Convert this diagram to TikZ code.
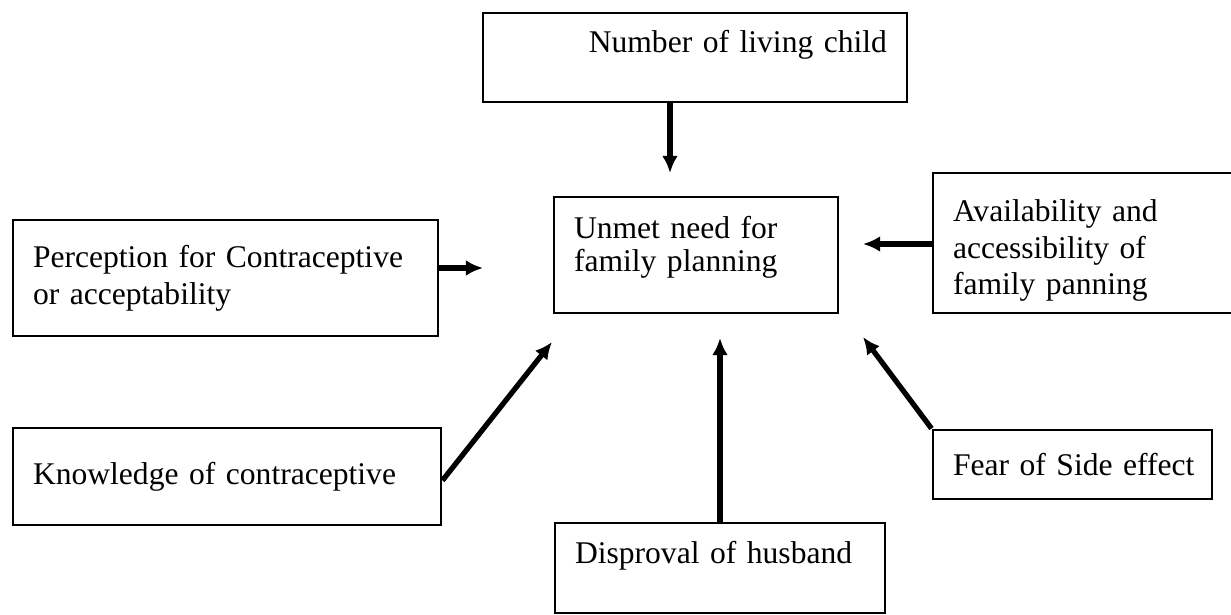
\documentclass[tikz,border=0pt]{standalone}
\usepackage{fontspec}
\setmainfont{Liberation Serif}
\usetikzlibrary{arrows.meta}

\begin{document}
\begin{tikzpicture}[x=0.38pt,y=-0.38pt]

\tikzstyle{box}=[draw,line width=1.1pt,rectangle,inner xsep=7.6pt,align=left,font=\fontsize{12}{14}\selectfont]
\tikzstyle{edge}=[-{Latex[length=6.5pt,width=6pt]},line width=2pt]

\useasboundingbox(0,0)rectangle(1231,615);

\node[box,minimum width=161.12pt,minimum height=33.82pt,text width=145.92pt,align=right,text depth=12pt](child)at(695,57.5){Number of living child};
\node[box,minimum width=107.92pt,minimum height=44.08pt,text width=92.72pt,font=\fontsize{12}{12.5}\selectfont,text depth=21pt](unmet)at(696,255){Unmet need for\\family planning};
\node[box,minimum width=120.46pt,minimum height=53.2pt,text width=105.26pt,text height=14pt](avail)at(1091.5,243){Availability and\\accessibility of\\family panning};
\node[box,minimum width=161.5pt,minimum height=44.08pt,text width=146.3pt](percep)at(225.5,278){Perception for Contraceptive\\or acceptability};
\node[box,minimum width=162.64pt,minimum height=36.86pt,text width=147.44pt](know)at(227,476.5){Knowledge of contraceptive};
\node[box,minimum width=106.02pt,minimum height=26.22pt,text width=90.82pt](fear)at(1072.5,464.5){\mbox{Fear of Side effect}};
\node[box,minimum width=125.4pt,minimum height=34.2pt,text width=110.2pt,text depth=12pt](husb)at(720,568){Disproval of husband};

% arrow tips stop short of the centre box
\coordinate(t1)at(670,173);
\coordinate(t2)at(863,244);
\coordinate(t3)at(483,268);
\coordinate(t4)at(552,342);
\coordinate(t5)at(720,338);
\coordinate(t6)at(863,337);

\draw[edge](t1|-child.south)--(t1);
\draw[edge](avail.west|-t2)--(t2);
\draw[edge](percep.east|-t3)--(t3);
\draw[edge]([yshift=-1.5pt]know.east)--(t4);
\draw[edge](t5|-husb.north)--(t5);
\draw[edge](fear.north west)--(t6);

\end{tikzpicture}
\end{document}
